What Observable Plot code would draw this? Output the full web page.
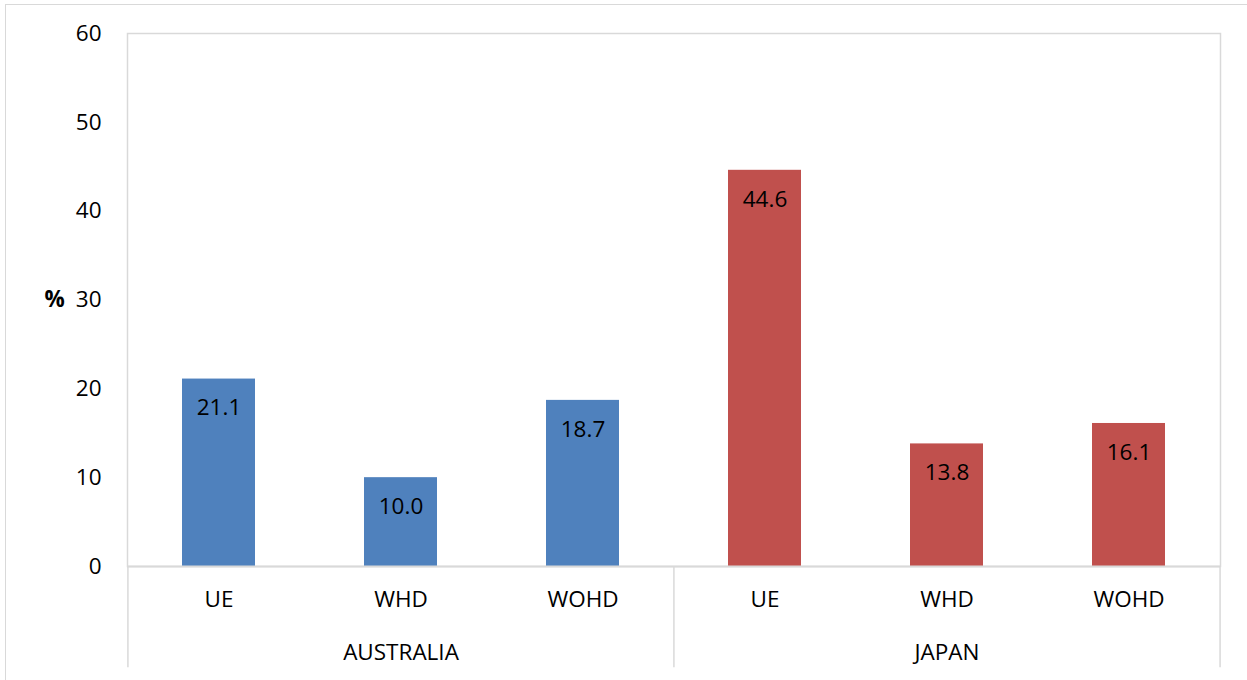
<!DOCTYPE html>
<html>
<head>
<meta charset="utf-8">
<script src="https://cdn.jsdelivr.net/npm/d3@7"></script>
<script src="https://cdn.jsdelivr.net/npm/@observablehq/plot@0.6"></script>
<style>
  html, body { margin: 0; padding: 0; background: #fff; }
  #wrap { position: relative; width: 1247px; height: 680px; overflow: hidden; }
  #border { position: absolute; left: 5px; top: 4px; width: 1300px; height: 720px; border: 1.5px solid #d9d9d9; box-sizing: border-box; }
  #chart { position: absolute; left: 0; top: 0; }
</style>
</head>
<body>
<div id="wrap"><div id="border"></div><div id="chart"></div></div>
<script>
const groups = ["AUSTRALIA", "JAPAN"];
const measures = ["UE", "WHD", "WOHD"];
const australiaValues = [21.1, 10.0, 18.7];
const japanValues = [44.6, 13.8, 16.1];
const yTicks = [0, 10, 20, 30, 40, 50, 60];
const yLabel = "%";
const groupColors = ["#4F81BD", "#C0504D"];

const seriesByGroup = [australiaValues, japanValues];
const data = [];
groups.forEach((g, gi) => measures.forEach((m, mi) => {
  data.push({group: g, measure: m, key: g + "|" + m, value: seriesByGroup[gi][mi]});
}));
const keys = data.map(d => d.key);
const groupStarts = groups.map(g => g + "|" + measures[0]);
const groupMids = groups.map(g => g + "|" + measures[1]);
const lastKey = [keys[keys.length - 1]];

const font = "'Open Sans', sans-serif";
const fs = 22.5;
const W = 1247, H = 680;
const mL = 127, mR = 27, mT = 33, mB = 114;
const step = (W - mL - mR) / keys.length;

const chart = Plot.plot({
  width: W,
  height: H,
  marginLeft: mL,
  marginRight: mR,
  marginTop: mT,
  marginBottom: mB,
  style: {fontFamily: font, fontSize: fs + "px", color: "#000", background: "transparent", overflow: "visible"},
  x: {domain: keys, paddingInner: 0.6, paddingOuter: 0.3, label: null, tickSize: 0, tickPadding: 25, tickFormat: k => k.split("|")[1]},
  y: {domain: [0, 60], ticks: yTicks, label: null, tickSize: 0, tickPadding: 26},
  color: {domain: groups, range: groupColors},
  marks: [
    Plot.frame({stroke: "#d9d9d9", strokeWidth: 1.5}),
    Plot.barY(data, {x: "key", y: "value", fill: "group"}),
    Plot.text(data, {x: "key", y: "value", text: d => d.value.toFixed(1), dy: 29, fill: "#000", fontSize: fs}),
    Plot.ruleY([0], {stroke: "#d9d9d9", strokeWidth: 2}),
    Plot.ruleX(groupStarts, {x: d => d, y1: 0, y2: -11.4, stroke: "#d9d9d9", strokeWidth: 1.5, dx: -step / 2}),
    Plot.ruleX(lastKey, {x: d => d, y1: 0, y2: -11.4, stroke: "#d9d9d9", strokeWidth: 1.5, dx: step / 2}),
    Plot.text(groupMids, {x: d => d, y: 0, text: d => d.split("|")[0], dy: 86, fill: "#000", fontSize: fs}),
    Plot.text([yLabel], {y: 30, frameAnchor: "left", dx: -83, text: d => d, fontWeight: "bold", fontSize: fs, fill: "#000"})
  ]
});
document.getElementById("chart").appendChild(chart);
</script>
</body>
</html>
